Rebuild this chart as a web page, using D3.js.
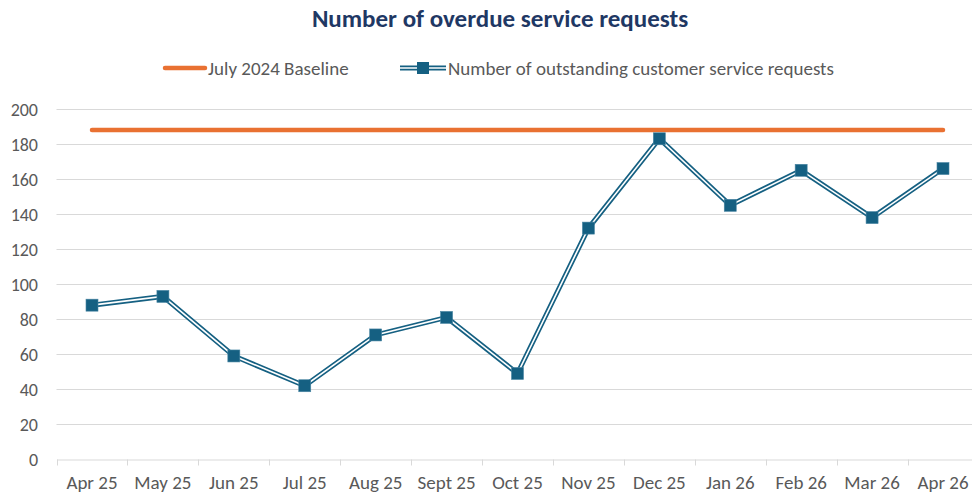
<!DOCTYPE html>
<html>
<head>
<meta charset="utf-8">
<script src="https://cdn.jsdelivr.net/npm/d3@7"></script>
<style>
  body { margin: 0; background: #fff; }
  svg text { font-family: Carlito, Calibri, Lato, sans-serif; }
</style>
</head>
<body>
<div id="chart"></div>
<script>
// chart data
var months = ["Apr 25", "May 25", "Jun 25", "Jul 25", "Aug 25", "Sept 25", "Oct 25",
              "Nov 25", "Dec 25", "Jan 26", "Feb 26", "Mar 26", "Apr 26"];
var outstanding = [88, 93, 59, 42, 71, 81, 49, 132, 183, 145, 165, 138, 166];
var baseline = 188;
var yTicks = [0, 20, 40, 60, 80, 100, 120, 140, 160, 180, 200];
var titleText = "Number of overdue service requests";
var seriesNames = ["July 2024 Baseline", "Number of outstanding customer service requests"];

var width = 972, height = 498;
var teal = "#156082", orange = "#E97132";
var fontFam = "Carlito, Calibri, Lato, sans-serif";

var svg = d3.select("#chart").append("svg")
    .attr("width", width)
    .attr("height", height);

// plot area runs a little past the right edge, like the original
var x = d3.scalePoint().domain(months).range([92, 943]);
var xBand = d3.scaleBand().domain(months).range([56.5, 978.5]);
var y = d3.scaleLinear().domain([0, 200]).range([459.3, 109]);

// gridlines
svg.append("g").selectAll("line")
    .data(yTicks.filter(function(d) { return d > 0; }))
    .enter().append("line")
    .attr("x1", 56.5).attr("x2", 978.5)
    .attr("y1", function(d) { return Math.round(y(d)) + 0.5; })
    .attr("y2", function(d) { return Math.round(y(d)) + 0.5; })
    .attr("stroke", "#d9d9d9")
    .attr("stroke-width", 1);

// y axis labels
svg.append("g").selectAll("text")
    .data(yTicks)
    .enter().append("text")
    .attr("x", 38)
    .attr("y", function(d) { return y(d) + 6.5; })
    .attr("text-anchor", "end")
    .attr("font-size", 18)
    .attr("fill", "#595959")
    .text(function(d) { return d; });

// x axis, ticks between categories
var xAxis = d3.axisBottom(xBand).tickSize(0).tickPadding(16);
var gx = svg.append("g")
    .attr("transform", "translate(0," + (Math.round(y(0)) + 0.5) + ")")
    .call(xAxis);
gx.select(".domain").attr("stroke", "#d9d9d9");
gx.selectAll("text")
    .attr("font-size", 19)
    .attr("fill", "#595959")
    .attr("font-family", fontFam);
var bounds = months.map(function(m) { return xBand(m); });
gx.selectAll(".sep").data(bounds).enter().append("line")
    .attr("class", "sep")
    .attr("x1", function(d) { return Math.round(d) + 0.5; })
    .attr("x2", function(d) { return Math.round(d) + 0.5; })
    .attr("y1", 0).attr("y2", 6)
    .attr("stroke", "#d9d9d9");

// baseline
svg.append("line")
    .attr("x1", x(months[0])).attr("x2", x(months[months.length - 1]))
    .attr("y1", y(baseline)).attr("y2", y(baseline))
    .attr("stroke", orange)
    .attr("stroke-width", 4.5)
    .attr("stroke-linecap", "round");

// double line for the series: thick teal with a white core
var line = d3.line()
    .x(function(d, i) { return x(months[i]); })
    .y(function(d) { return y(d); });

svg.append("path")
    .datum(outstanding)
    .attr("d", line)
    .attr("fill", "none")
    .attr("stroke", teal)
    .attr("stroke-width", 5);
svg.append("path")
    .datum(outstanding)
    .attr("d", line)
    .attr("fill", "none")
    .attr("stroke", "#fff")
    .attr("stroke-width", 1.6);

// markers
var ms = 12;
svg.append("g").selectAll("rect")
    .data(outstanding)
    .enter().append("rect")
    .attr("x", function(d, i) { return x(months[i]) - ms / 2; })
    .attr("y", function(d) { return y(d) - ms / 2; })
    .attr("width", ms).attr("height", ms)
    .attr("fill", teal)
    .attr("stroke", "#4a86a3")
    .attr("stroke-width", 0.6);

// title
svg.append("text")
    .attr("x", 500).attr("y", 27)
    .attr("text-anchor", "middle")
    .attr("font-size", 25)
    .attr("font-weight", "bold")
    .attr("fill", "#1f3864")
    .text(titleText);

// legend
var lg = svg.append("g");
lg.append("line")
    .attr("x1", 165).attr("x2", 205).attr("y1", 68).attr("y2", 68)
    .attr("stroke", orange).attr("stroke-width", 4.5).attr("stroke-linecap", "round");
lg.append("text")
    .attr("x", 208).attr("y", 74.5)
    .attr("font-size", 19).attr("fill", "#595959")
    .text(seriesNames[0]);

lg.append("line")
    .attr("x1", 400).attr("x2", 446).attr("y1", 68).attr("y2", 68)
    .attr("stroke", teal).attr("stroke-width", 5);
lg.append("line")
    .attr("x1", 400).attr("x2", 446).attr("y1", 68).attr("y2", 68)
    .attr("stroke", "#fff").attr("stroke-width", 1.6);
lg.append("rect")
    .attr("x", 423 - ms / 2).attr("y", 68 - ms / 2)
    .attr("width", ms).attr("height", ms)
    .attr("fill", teal);
lg.append("text")
    .attr("x", 448).attr("y", 74.5)
    .attr("font-size", 19).attr("fill", "#595959")
    .text(seriesNames[1]);
</script>
</body>
</html>
